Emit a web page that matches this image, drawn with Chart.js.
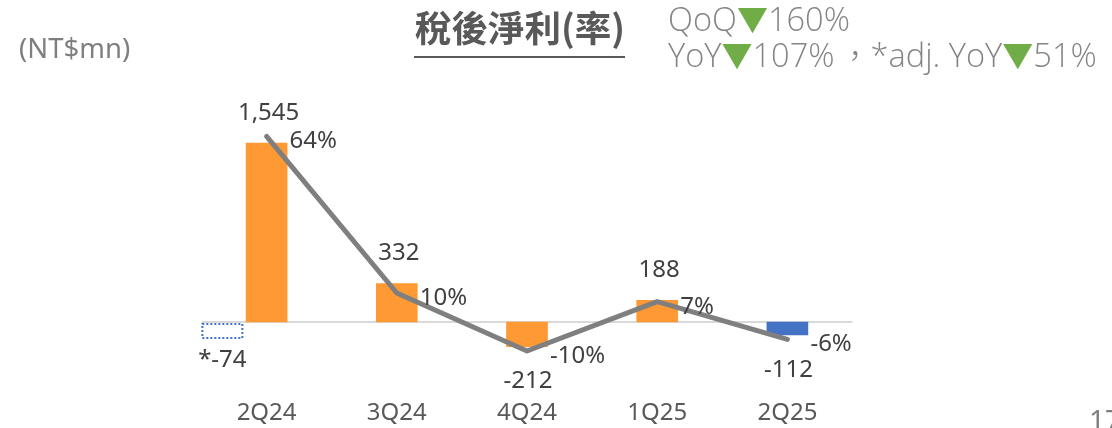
<!DOCTYPE html>
<html lang="zh-TW">
<head>
<meta charset="utf-8">
<script src="https://cdn.jsdelivr.net/npm/chart.js@4.4.1/dist/chart.umd.min.js"></script>
<style>
  html, body { margin: 0; padding: 0; background: #ffffff; overflow: hidden; }
  #wrap { position: relative; width: 1112px; height: 428px; overflow: hidden; background: #fff; }
  #c { position: absolute; left: 0; top: 0; }
  .t { position: absolute; white-space: nowrap; font-family: "Noto Sans", "Noto Sans CJK TC", sans-serif; }
  #unit { left: 19px; top: 33px; font-size: 27.5px; line-height: 30px; color: #7f7f7f; }
  #title { left: 415px; top: 7px; font-family: "Noto Sans CJK TC", sans-serif; font-weight: bold; font-size: 36.5px; line-height: 40px; color: #595959; }
  #uline { position: absolute; left: 414px; top: 56px; width: 211px; height: 2px; background: #595959; }
  #kpi { left: 668px; top: 0px; font-family: "Open Sans", "Noto Sans", "Noto Sans CJK TC", sans-serif; font-weight: 300; font-size: 32.6px; line-height: 35px; color: #858585; }
  #kpi .dn { color: #70AD47; font-family: "Noto Sans CJK TC", sans-serif; font-weight: normal; font-size: 31px; }
  #kpi .cm { font-family: "Noto Sans CJK TC", sans-serif; font-size: 31px; padding-left: 5px; }
  #page { left: 1089px; top: 405px; font-size: 28px; line-height: 28px; color: #7f7f7f; }
</style>
</head>
<body>
<div id="wrap">
  <canvas id="c" width="1112" height="428"></canvas>
  <div class="t" id="unit">(NT$mn)</div>
  <div class="t" id="title">稅後淨利(率)</div>
  <div id="uline"></div>
  <div class="t" id="kpi">QoQ<span class="dn">▼</span>160%<br>YoY<span class="dn">▼</span>107%<span class="cm">，</span>*adj. YoY<span class="dn">▼</span>51%</div>
  <div class="t" id="page">17</div>
</div>
<script>
// ---- data ----
const categories = ['2Q24', '3Q24', '4Q24', '1Q25', '2Q25'];
const netIncome = [1545, 332, -212, 188, -112];          // NT$mn
const netMarginPct = [64, 10, -10, 7, -6];               // %
const adjNetIncome = [-74];                              // *adj. 2Q24
const adjLabels = ['*-74'];

// ---- layout / style constants ----
const ORANGE = '#FF9933';
const BLUE = '#4472C4';
const LABEL_COLOR = '#404040';
const LABEL_FONT = '24px "Noto Sans", sans-serif';
const ADJ_X_OFFSET = -0.34; // adj. bar drawn to the left of the 2Q24 bar

const zeroLinePlugin = {
  id: 'zeroLine',
  beforeDatasetsDraw(chart) {
    const { ctx, chartArea, scales } = chart;
    const y0 = scales.y.getPixelForValue(0);
    ctx.save();
    ctx.strokeStyle = '#d9d9d9';
    ctx.lineWidth = 2;
    ctx.beginPath();
    ctx.moveTo(chartArea.left, y0);
    ctx.lineTo(chartArea.right, y0);
    ctx.stroke();
    ctx.restore();
  }
};

const labelPlugin = {
  id: 'labels',
  afterDatasetsDraw(chart) {
    const { ctx } = chart;
    ctx.save();
    ctx.font = LABEL_FONT;
    ctx.fillStyle = LABEL_COLOR;
    ctx.textBaseline = 'middle';

    // dotted outline for the adjusted bar
    const adjMeta = chart.getDatasetMeta(2);
    adjMeta.data.forEach((el, i) => {
      const p = el.getProps(['x', 'y', 'base', 'width'], true);
      const left = p.x - p.width / 2, right = p.x + p.width / 2;
      const top = Math.min(p.y, p.base), bottom = Math.max(p.y, p.base);
      ctx.save();
      ctx.strokeStyle = BLUE;
      ctx.lineWidth = 2;
      ctx.setLineDash([2, 2]);
      ctx.strokeRect(left + 1, top + 2, right - left - 2, bottom - top - 3);
      ctx.restore();
      ctx.textAlign = 'center';
      ctx.fillText(adjLabels[i], p.x, bottom + 21);
    });

    // bar value labels
    const barMeta = chart.getDatasetMeta(1);
    barMeta.data.forEach((el, i) => {
      const v = netIncome[i];
      const p = el.getProps(['x', 'y', 'base'], true);
      ctx.textAlign = 'center';
      const txt = v.toLocaleString('en-US');
      if (v >= 0) ctx.fillText(txt, p.x + 2, p.y - 30);
      else ctx.fillText(txt, p.x + 1, p.y + 35);
    });

    // line labels
    const lineMeta = chart.getDatasetMeta(0);
    lineMeta.data.forEach((el, i) => {
      const p = el.getProps(['x', 'y'], true);
      ctx.textAlign = 'left';
      ctx.fillText(netMarginPct[i] + '%', p.x + 23, p.y + 5);
    });
    ctx.restore();
  }
};

// axis ranges (shared zero line)
const Y_MIN = -561, Y_MAX = 1916;
const zeroFrac = Y_MAX / (Y_MAX - Y_MIN);
const Y2_RANGE = 98.97;
const YADJ_RANGE = 1249;

new Chart(document.getElementById('c'), {
  data: {
    labels: categories,
    datasets: [
      {
        type: 'line',
        label: '稅後淨利率',
        data: netMarginPct,
        yAxisID: 'y2',
        xAxisID: 'x',
        borderColor: '#7F7F7F',
        borderWidth: 5,
        pointRadius: 0,
        tension: 0,
        borderCapStyle: 'round',
        borderJoinStyle: 'round',
        order: 0
      },
      {
        type: 'bar',
        label: '稅後淨利',
        data: netIncome,
        yAxisID: 'y',
        xAxisID: 'x',
        grouped: false,
        backgroundColor: (c) => c.dataIndex === categories.length - 1 ? BLUE : ORANGE,
        barThickness: 41,
        order: 1
      },
      {
        type: 'bar',
        label: '*adj.',
        data: adjNetIncome.map((v, i) => ({ x: i + ADJ_X_OFFSET, y: v })),
        yAxisID: 'yAdj',
        xAxisID: 'xAdj',
        grouped: false,
        backgroundColor: 'rgba(0,0,0,0)',
        barThickness: 42,
        order: 2
      }
    ]
  },
  options: {
    responsive: false,
    animation: false,
    layout: { padding: { left: 201.5, right: 259.5, top: 100, bottom: 0 } },
    plugins: { legend: { display: false }, tooltip: { enabled: false } },
    scales: {
      x: {
        type: 'category',
        offset: true,
        grid: { display: false, drawTicks: false },
        border: { display: false },
        ticks: {
          color: '#595959',
          padding: 12,
          font: { family: '"Noto Sans", sans-serif', size: 24 }
        },
        afterFit(scale) { scale.height = 41; }
      },
      xAdj: {
        type: 'linear',
        display: false,
        offset: false,
        grid: { offset: false },
        bounds: 'data',
        min: -0.5,
        max: categories.length - 0.5
      },
      y: { display: false, min: Y_MIN, max: Y_MAX },
      y2: { display: false, min: -(1 - zeroFrac) * Y2_RANGE, max: zeroFrac * Y2_RANGE },
      yAdj: { display: false, min: -(1 - zeroFrac) * YADJ_RANGE, max: zeroFrac * YADJ_RANGE }
    }
  },
  plugins: [zeroLinePlugin, labelPlugin]
});
</script>
</body>
</html>
